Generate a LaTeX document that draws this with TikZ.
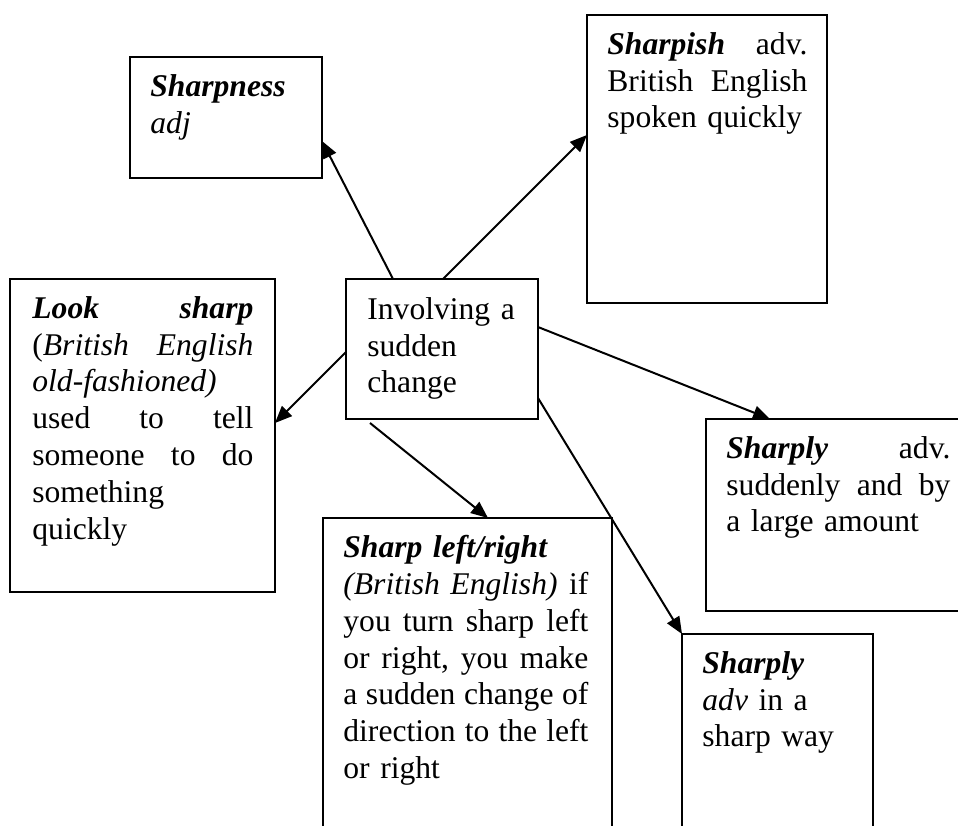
\documentclass[tikz,border=0pt]{standalone}
\usepackage{fontspec}
\setmainfont{Liberation Serif}
\usetikzlibrary{arrows.meta,calc,positioning}
\newcommand{\headw}[1]{\textbf{\textit{#1}}}

\begin{document}
\begin{tikzpicture}[x=0.5pt,y=-0.5pt,
	box/.style={draw,line width=1.2pt,rectangle,inner sep=0pt,outer sep=0pt},
	txt/.style={anchor=north west,inner sep=0pt,font=\fontsize{15.8}{18.4}\selectfont},
	arr/.style={line width=1pt,-{Triangle[length=8.5pt,width=7pt]}}]
		\useasboundingbox (0,0) rectangle (958,825);
		\clip (0,0) rectangle (958,825);
		\node[box,minimum width=96pt,minimum height=60.5pt] (sharpness) at (226,117.5) {};
		\node[box,minimum width=120pt,minimum height=144pt] (sharpish) at (707,159) {};
		\node[box,minimum width=96pt,minimum height=70pt] (ctr) at (442,349) {};
		\node[box,minimum width=132.5pt,minimum height=156.5pt] (looksharp) at (142.5,435.5) {};
		\node[box,minimum width=133pt,minimum height=96pt] (sharply) at (839,515) {};
		\node[box,minimum width=144.5pt,minimum height=171pt] (sharpturn) at (467.5,689) {};
		\node[box,minimum width=95.5pt,minimum height=113pt] (sharpway) at (777.5,747) {};
		\node[txt,text width=76pt] (sharpness-t) at ($(sharpness.north west)+(20,17)$)
			{\headw{Sharpness}\\\textit{adj}};
		\node[txt,text width=100pt] (sharpish-t) at ($(sharpish.north west)+(20,17)$)
			{\headw{Sharpish}\hfill adv.\\British\hfill English\\spoken quickly};
		\node[txt,text width=76pt] (ctr-t) at ($(ctr.north west)+(21,18)$)
			{Involving a\\sudden\\change};
		\node[txt,text width=110.5pt] (looksharp-t) at ($(looksharp.north west)+(22,17)$)
			{\headw{Look}\hfill\headw{sharp}\\(\textit{British}\hfill\textit{English}\\\textit{old-fashioned)}\\used\hfill to\hfill tell\\someone\hfill to\hfill do\\something\\quickly};
		\node[txt,text width=112pt] (sharply-t) at ($(sharply.north west)+(20,17)$)
			{\headw{Sharply}\hfill adv.\\suddenly\hfill and\hfill by\\a large amount};
		\node[txt,text width=122.5pt] (sharpturn-t) at ($(sharpturn.north west)+(20,17)$)
			{\headw{Sharp left/right}\\\textit{(British English)}\hfill if\\you\hfill turn\hfill sharp\hfill left\\or\hfill right,\hfill you\hfill make\\a\hfill sudden\hfill change\hfill of\\direction\hfill to\hfill the\hfill left\\or right};
		\node[txt,text width=75pt] (sharpway-t) at ($(sharpway.north west)+(20,17)$)
			{\headw{Sharply}\\\textit{adv} in a\\sharp way};
		\draw[arr] ($(ctr.north west)+(47,0)$) -- ($(sharpness.north east)+(0,84)$);
		\draw[arr] ($(ctr.north west)+(97,0)$) -- ($(sharpish.north west)+(0,120)$);
		\draw[arr] ($(ctr.north east)+(0,48)$) -- ($(sharply.north west)+(64,0)$);
		\draw[arr] ($(ctr.north west)+(0,73)$) -- ($(looksharp.north east)+(0,144)$);
		\draw[arr] ($(ctr.south west)+(24,4)$) -- ($(sharpturn.north west)+(165,0)$);
		\draw[arr] ($(ctr.north east)+(0,119)$) -- (sharpway.north west);
\end{tikzpicture}
\end{document}
